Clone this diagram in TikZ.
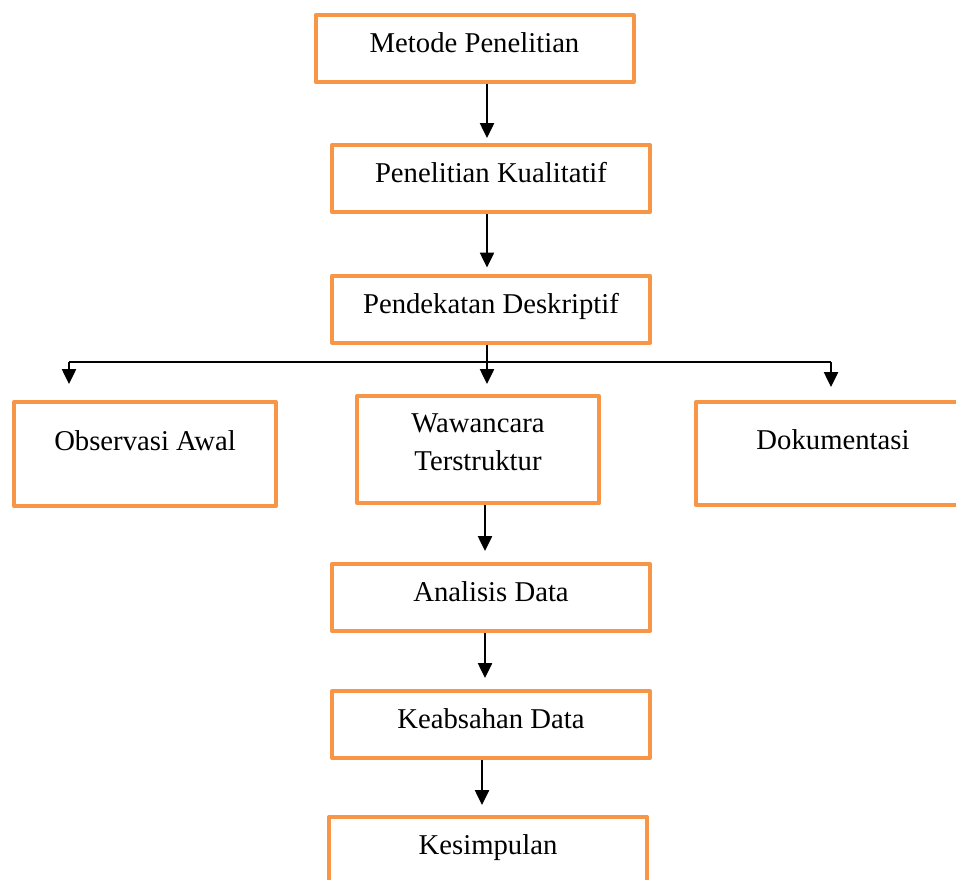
\documentclass[tikz,border=0pt]{standalone}
\usepackage{fontspec}
\setmainfont{Liberation Serif}
\usepackage{tikz}
\usetikzlibrary{arrows.meta,positioning}

\definecolor{boxorange}{HTML}{F79646}

\tikzset{
        flowbox/.style={draw=boxorange, line width=4pt, inner sep=0pt, line join=round,
                font=\fontsize{28.7}{38}\selectfont, align=center},
        stagebox/.style={flowbox, minimum width=318pt, minimum height=67pt,
                text height=20pt, text depth=12pt},
        sourcebox/.style={flowbox, text height=20pt, text depth=28pt},
        flowarrow/.style={line width=2.5pt, -{Triangle[length=15pt, width=14pt]}},
        flowline/.style={line width=2.5pt}
}

\begin{document}
\begin{tikzpicture}[x=1pt, y=-1pt]
        \useasboundingbox (0, 0) rectangle (956, 879);

        \node[stagebox] (metode) at (474.5, 48.5) {Metode Penelitian};
        \node[stagebox] (kualitatif) at (491, 178.5) {Penelitian Kualitatif};
        \node[stagebox] (deskriptif) at (491, 309) {Pendekatan Deskriptif};

        \node[sourcebox, minimum width=262pt, minimum height=104pt] (observasi) at (145, 454) {Observasi Awal};
        \node[flowbox, minimum width=242pt, minimum height=107pt] (wawancara) at (478, 449.5)
                {Wawancara\\Terstruktur\rule[-15pt]{0pt}{15pt}};
        \node[sourcebox, minimum width=274pt, minimum height=103pt] (dokumentasi) at (833, 453.5) {Dokumentasi};

        \node[stagebox] (analisis) at (491, 597.5) {Analisis Data};
        \node[stagebox] (keabsahan) at (491, 724.5) {Keabsahan Data};
        \node[stagebox] (kesimpulan) at (488, 850.5) {Kesimpulan};

        % columns of the connectors
        \coordinate (upper col) at (487, 0);
        \coordinate (lower col) at (485, 0);
        \coordinate (last col) at (482, 0);
        \coordinate (branch left) at (69, 362);
        \coordinate (branch right) at (831, 362);

        \draw[flowarrow, shorten >=5pt] (metode.south -| upper col) -- (kualitatif.north -| upper col);
        \draw[flowarrow, shorten >=6pt] (kualitatif.south -| upper col) -- (deskriptif.north -| upper col);

        \draw[flowline] (branch left) -- (branch right);
        \draw[flowarrow, shorten >=10pt] (deskriptif.south -| upper col) -- (wawancara.north -| upper col);
        \draw[flowarrow, shorten >=16pt] (branch left) -- (branch left |- observasi.north);
        \draw[flowarrow, shorten >=13pt] (branch right) -- (branch right |- dokumentasi.north);

        \draw[flowarrow, shorten >=11pt] (wawancara.south -| lower col) -- (analisis.north -| lower col);
        \draw[flowarrow, shorten >=11pt] (analisis.south -| lower col) -- (keabsahan.north -| lower col);
        \draw[flowarrow, shorten >=10pt] (keabsahan.south -| last col) -- (kesimpulan.north -| last col);
\end{tikzpicture}
\end{document}
